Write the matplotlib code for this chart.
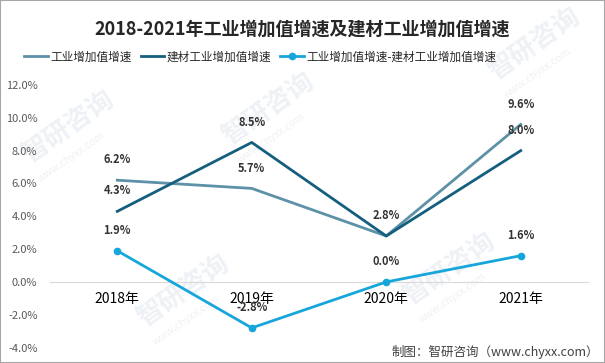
import matplotlib
matplotlib.use('Agg')
import matplotlib.pyplot as plt
from matplotlib.patches import Rectangle
from matplotlib.ticker import FuncFormatter

plt.rcParams['font.family'] = ['Noto Sans CJK SC', 'DejaVu Sans']

years = ['2018年', '2019年', '2020年', '2021年']
gongye = [6.2, 5.7, 2.8, 9.6]
jiancai = [4.3, 8.5, 2.8, 8.0]
chazhi = [1.9, -2.8, 0.0, 1.6]
names = ['工业增加值增速', '建材工业增加值增速', '工业增加值增速-建材工业增加值增速']
colors = ['#5D91A7', '#145E7E', '#17A6DB']

fig = plt.figure(figsize=(6.05, 3.63), dpi=100)
ax = fig.add_axes([50 / 605, 1 - 347.6 / 363, 538 / 605, 262.6 / 363])
ax.set_zorder(2)

# faint watermark
for wx, wy in [(0.03, 0.55), (0.22, 0.10), (0.36, 0.60), (0.66, 0.16), (0.80, 0.78)]:
    fig.text(wx, wy, '智研咨询', fontsize=19, color='#EEF1F5', rotation=35,
             fontweight='bold', zorder=0)
    fig.text(wx + 0.03, wy - 0.05, 'www.chyxx.com', fontsize=7.5, color='#EEF1F5',
             rotation=35, zorder=0)

x = range(len(years))
ax.plot(x, gongye, color=colors[0], lw=2, label=names[0], zorder=3)
ax.plot(x, jiancai, color=colors[1], lw=2, label=names[1], zorder=3)
ax.plot(x, chazhi, color=colors[2], lw=2, marker='o', ms=4.5, label=names[2], zorder=3)

# data labels
shown = set()
for series in [gongye, jiancai, chazhi]:
    for i, v in enumerate(series):
        if (i, v) in shown:
            continue
        shown.add((i, v))
        ax.annotate('%.1f%%' % v, (i, v), xytext=(0, 10), textcoords='offset points',
                    ha='center', va='bottom', fontsize=8, fontweight='bold',
                    color='#333333', zorder=4)

ax.set_xlim(-0.5, 3.5)
ax.set_ylim(-4, 12)
ax.set_yticks([-4, -2, 0, 2, 4, 6, 8, 10, 12])
ax.yaxis.set_major_formatter(FuncFormatter(lambda v, p: '%.1f%%' % v))
ax.set_xticks(list(x))
ax.set_xticklabels(years, fontsize=9, fontweight='bold', color='#333333')
for s in ['left', 'right', 'top']:
    ax.spines[s].set_visible(False)
ax.spines['bottom'].set_position(('data', 0))
ax.spines['bottom'].set_color('#D9D9D9')
ax.tick_params(axis='x', length=0, pad=7)
ax.tick_params(axis='y', length=0, pad=9, labelsize=8, labelcolor='#595959')
ax.patch.set_alpha(0)

fig.suptitle('2018-2021年工业增加值增速及建材工业增加值增速', y=0.945,
             fontsize=13, fontweight='bold', color='#262626')
fig.legend(loc='center', bbox_to_anchor=(0.43, 1 - 57 / 363), ncol=3, frameon=False,
           fontsize=8.4, handlelength=2.0, columnspacing=0.8, handletextpad=0.2,
           labelcolor='#262626')

fig.text(0.99, 1 - 352 / 363, '制图：智研咨询（www.chyxx.com）', ha='right', va='center',
         fontsize=9, color='#404040')

fig.patches.append(Rectangle((0, 0), 1, 1, transform=fig.transFigure, fill=False,
                             edgecolor='#A6A6A6', lw=1.5))

fig.savefig('out.png', dpi=100)
